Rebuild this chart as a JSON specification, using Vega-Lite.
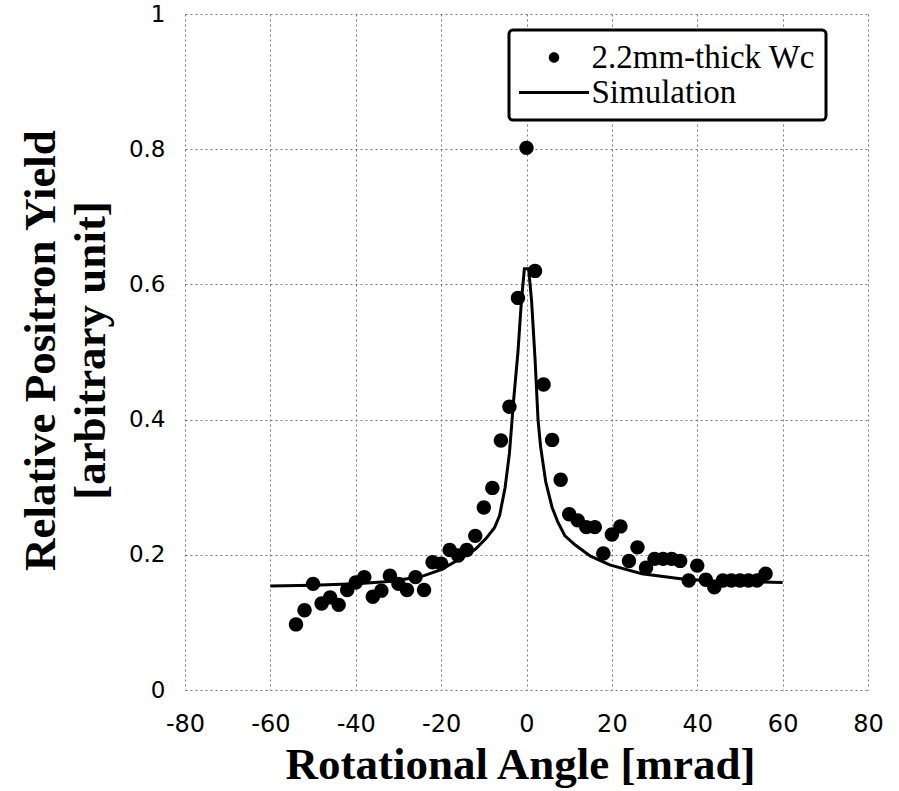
{
  "$schema": "https://vega.github.io/schema/vega-lite/v6.json",
  "width": 683,
  "height": 676,
  "autosize": {"type": "none"},
  "padding": {"left": 185, "top": 14, "right": 31, "bottom": 101},
  "background": "white",
  "config": {"view": {"stroke": null}, "legend": {"strokeWidth": 3}},
  "datasets": {
    "measured": [
      {"angle": -54, "yield": 0.097, "series": "2.2mm-thick Wc"},
      {"angle": -52, "yield": 0.118, "series": "2.2mm-thick Wc"},
      {"angle": -50, "yield": 0.157, "series": "2.2mm-thick Wc"},
      {"angle": -48, "yield": 0.128, "series": "2.2mm-thick Wc"},
      {"angle": -46, "yield": 0.137, "series": "2.2mm-thick Wc"},
      {"angle": -44, "yield": 0.126, "series": "2.2mm-thick Wc"},
      {"angle": -42, "yield": 0.148, "series": "2.2mm-thick Wc"},
      {"angle": -40, "yield": 0.159, "series": "2.2mm-thick Wc"},
      {"angle": -38, "yield": 0.167, "series": "2.2mm-thick Wc"},
      {"angle": -36, "yield": 0.138, "series": "2.2mm-thick Wc"},
      {"angle": -34, "yield": 0.147, "series": "2.2mm-thick Wc"},
      {"angle": -32, "yield": 0.169, "series": "2.2mm-thick Wc"},
      {"angle": -30, "yield": 0.157, "series": "2.2mm-thick Wc"},
      {"angle": -28, "yield": 0.148, "series": "2.2mm-thick Wc"},
      {"angle": -26, "yield": 0.167, "series": "2.2mm-thick Wc"},
      {"angle": -24, "yield": 0.148, "series": "2.2mm-thick Wc"},
      {"angle": -22, "yield": 0.189, "series": "2.2mm-thick Wc"},
      {"angle": -20, "yield": 0.187, "series": "2.2mm-thick Wc"},
      {"angle": -18, "yield": 0.207, "series": "2.2mm-thick Wc"},
      {"angle": -16, "yield": 0.199, "series": "2.2mm-thick Wc"},
      {"angle": -14, "yield": 0.207, "series": "2.2mm-thick Wc"},
      {"angle": -12, "yield": 0.228, "series": "2.2mm-thick Wc"},
      {"angle": -10, "yield": 0.27, "series": "2.2mm-thick Wc"},
      {"angle": -8, "yield": 0.299, "series": "2.2mm-thick Wc"},
      {"angle": -6, "yield": 0.369, "series": "2.2mm-thick Wc"},
      {"angle": -4, "yield": 0.419, "series": "2.2mm-thick Wc"},
      {"angle": -2, "yield": 0.58, "series": "2.2mm-thick Wc"},
      {"angle": 0, "yield": 0.802, "series": "2.2mm-thick Wc"},
      {"angle": 2, "yield": 0.62, "series": "2.2mm-thick Wc"},
      {"angle": 4, "yield": 0.452, "series": "2.2mm-thick Wc"},
      {"angle": 6, "yield": 0.37, "series": "2.2mm-thick Wc"},
      {"angle": 8, "yield": 0.311, "series": "2.2mm-thick Wc"},
      {"angle": 10, "yield": 0.26, "series": "2.2mm-thick Wc"},
      {"angle": 12, "yield": 0.251, "series": "2.2mm-thick Wc"},
      {"angle": 14, "yield": 0.241, "series": "2.2mm-thick Wc"},
      {"angle": 16, "yield": 0.241, "series": "2.2mm-thick Wc"},
      {"angle": 18, "yield": 0.202, "series": "2.2mm-thick Wc"},
      {"angle": 20, "yield": 0.23, "series": "2.2mm-thick Wc"},
      {"angle": 22, "yield": 0.242, "series": "2.2mm-thick Wc"},
      {"angle": 24, "yield": 0.191, "series": "2.2mm-thick Wc"},
      {"angle": 26, "yield": 0.211, "series": "2.2mm-thick Wc"},
      {"angle": 28, "yield": 0.181, "series": "2.2mm-thick Wc"},
      {"angle": 30, "yield": 0.194, "series": "2.2mm-thick Wc"},
      {"angle": 32, "yield": 0.194, "series": "2.2mm-thick Wc"},
      {"angle": 34, "yield": 0.194, "series": "2.2mm-thick Wc"},
      {"angle": 36, "yield": 0.191, "series": "2.2mm-thick Wc"},
      {"angle": 38, "yield": 0.162, "series": "2.2mm-thick Wc"},
      {"angle": 40, "yield": 0.184, "series": "2.2mm-thick Wc"},
      {"angle": 42, "yield": 0.163, "series": "2.2mm-thick Wc"},
      {"angle": 44, "yield": 0.152, "series": "2.2mm-thick Wc"},
      {"angle": 46, "yield": 0.162, "series": "2.2mm-thick Wc"},
      {"angle": 48, "yield": 0.162, "series": "2.2mm-thick Wc"},
      {"angle": 50, "yield": 0.162, "series": "2.2mm-thick Wc"},
      {"angle": 52, "yield": 0.162, "series": "2.2mm-thick Wc"},
      {"angle": 54, "yield": 0.162, "series": "2.2mm-thick Wc"},
      {"angle": 56, "yield": 0.172, "series": "2.2mm-thick Wc"}
    ],
    "simulation": [
      {"angle": -60, "yield": 0.154},
      {"angle": -50, "yield": 0.155},
      {"angle": -40, "yield": 0.157},
      {"angle": -33, "yield": 0.16},
      {"angle": -25, "yield": 0.167},
      {"angle": -20, "yield": 0.178},
      {"angle": -15, "yield": 0.196},
      {"angle": -12, "yield": 0.208},
      {"angle": -9.5, "yield": 0.224},
      {"angle": -7.5, "yield": 0.24},
      {"angle": -6.3, "yield": 0.258},
      {"angle": -5, "yield": 0.3},
      {"angle": -4, "yield": 0.35},
      {"angle": -3, "yield": 0.43},
      {"angle": -2, "yield": 0.5},
      {"angle": -1.2, "yield": 0.575},
      {"angle": -0.5, "yield": 0.623},
      {"angle": 0.5, "yield": 0.623},
      {"angle": 1.2, "yield": 0.575},
      {"angle": 2, "yield": 0.49},
      {"angle": 2.7, "yield": 0.4},
      {"angle": 3.3, "yield": 0.36},
      {"angle": 4.5, "yield": 0.308},
      {"angle": 6, "yield": 0.27},
      {"angle": 7.3, "yield": 0.249},
      {"angle": 9, "yield": 0.228},
      {"angle": 11.5, "yield": 0.214},
      {"angle": 15, "yield": 0.198},
      {"angle": 19.5, "yield": 0.185},
      {"angle": 27, "yield": 0.172},
      {"angle": 37, "yield": 0.164},
      {"angle": 45, "yield": 0.161},
      {"angle": 60, "yield": 0.159}
    ]
  },
  "layer": [
    {
      "data": {"name": "simulation"},
      "mark": {"type": "line", "color": "black", "strokeWidth": 3, "interpolate": "linear"},
      "encoding": {
        "x": {
          "field": "angle", "type": "quantitative",
          "scale": {"domain": [-80, 80], "nice": false, "zero": false},
          "axis": {
            "values": [-80, -60, -40, -20, 0, 20, 40, 60, 80],
            "labelExpr": "toString(datum.value)",
            "title": "Rotational Angle [mrad]",
            "domain": false, "ticks": false,
            "grid": true, "gridColor": "#777", "gridDash": [2, 3], "gridWidth": 1,
            "labelFont": "DejaVu Sans", "labelFontSize": 24, "labelColor": "black",
            "labelPadding": 22, "labelFlush": false, "labelOverlap": false,
            "titleFont": "Liberation Serif", "titleFontSize": 45, "titleFontWeight": "bold",
            "titleColor": "black", "titleBaseline": "alphabetic", "titleX": 335, "titleY": 88,
            "titleAnchor": "middle"
          }
        },
        "y": {
          "field": "yield", "type": "quantitative",
          "scale": {"domain": [0, 1], "nice": false},
          "axis": {
            "values": [0, 0.2, 0.4, 0.6, 0.8, 1],
            "labelExpr": "toString(datum.value)",
            "title": ["Relative Positron Yield", "[arbitrary unit]"],
            "domain": false, "ticks": false,
            "grid": true, "gridColor": "#777", "gridDash": [2, 3], "gridWidth": 1,
            "labelFont": "DejaVu Sans", "labelFontSize": 23, "labelColor": "black",
            "labelPadding": 20, "labelFlush": false, "labelOverlap": false,
            "titleFont": "Liberation Serif", "titleFontSize": 45, "titleFontWeight": "bold",
            "titleColor": "black", "titleAngle": -90, "titleBaseline": "middle",
            "titleAlign": "center", "titleLineHeight": 50, "titleX": -145, "titleY": 336
          }
        }
      }
    },
    {
      "data": {"name": "measured"},
      "mark": {"type": "point", "filled": true, "color": "black", "opacity": 1, "size": 2300},
      "encoding": {
        "x": {"field": "angle", "type": "quantitative"},
        "y": {"field": "yield", "type": "quantitative"},
        "shape": {
          "field": "series", "type": "nominal",
          "scale": {
            "domain": ["2.2mm-thick Wc", "Simulation"],
            "range": ["M0,-0.3A0.3,0.3 0 1,1 0,0.3A0.3,0.3 0 1,1 0,-0.3Z", "M-2,-0.09H2V0.09H-2Z"]
          },
          "legend": {
            "title": null, "orient": "none", "legendX": 324, "legendY": 16,
            "symbolSize": 1225, "symbolFillColor": "black", "symbolStrokeColor": "black",
            "symbolStrokeWidth": 0, "symbolOpacity": 1, "symbolOffset": 17.5,
            "labelFont": "Liberation Serif", "labelFontSize": 33, "labelColor": "black",
            "labelOffset": 20, "rowPadding": 0, "padding": 10,
            "strokeColor": "black", "cornerRadius": 4, "fillColor": "white",
            "labelLimit": 400
          }
        }
      }
    }
  ]
}
